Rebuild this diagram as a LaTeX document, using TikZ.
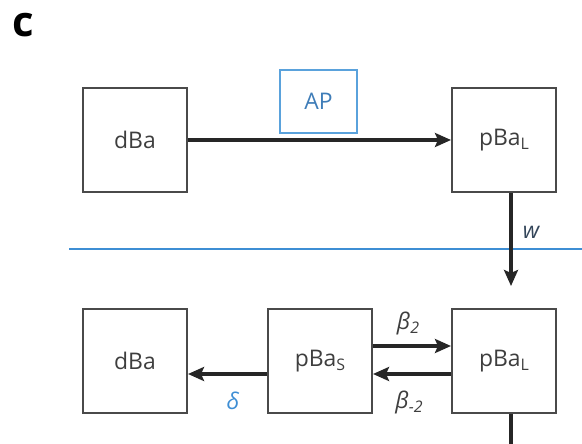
\documentclass[tikz,border=0pt]{standalone}
\usepackage{fontspec}
\setmainfont{Open Sans}
\usetikzlibrary{arrows.meta}
\definecolor{boxline}{HTML}{4A4A4A}
\definecolor{txt}{HTML}{3E3E3E}
\definecolor{arr}{HTML}{262626}
\definecolor{apblue}{HTML}{5AA2DC}
\definecolor{aptext}{HTML}{3F7DB8}
\definecolor{sep}{HTML}{3E8ED4}
\definecolor{wtxt}{HTML}{34465A}
\newcommand{\sub}[1]{\raisebox{-4bp}{\fontsize{16}{16}\selectfont #1}}
\tikzset{
  state/.style={draw=boxline, line width=2bp, minimum width=104bp, minimum height=104bp,
    inner sep=0pt, text=txt, font=\fontsize{23}{27}\selectfont},
  apbox/.style={draw=apblue, line width=1.8bp, minimum width=77bp, minimum height=63bp,
    inner sep=0pt, text=aptext, font=\fontsize{23}{27}\selectfont},
  flow/.style={draw=arr, line width=3.2bp, -{Stealth[length=16bp,width=14bp,inset=3bp]}},
  rate/.style={font=\fontsize{23}{26}\selectfont\itshape, inner sep=0pt},
}
\begin{document}
\begin{tikzpicture}[x=1bp, y=-1bp]
  \useasboundingbox (0,0) rectangle (582,444);

  % panel letter
  \node[font=\fontsize{42}{42}\selectfont\bfseries, text=black, inner sep=0pt] (panel) at (23,25) {c};

  % upper compartment
  \node[state] (dba1) at (135,140) {dBa};
  \node[state] (pbal1) at (504,140) {pBa\sub{L}};
  \node[apbox] (ap) at (318.5,101.5) {AP};
  \draw[flow] (dba1) -- (pbal1);

  % separating membrane
  \coordinate (sepL) at (69,249);
  \coordinate (sepR) at (582,249);
  \draw[sep, line width=2.8bp] (sepL) -- (sepR);

  % transfer across the membrane
  \coordinate (wtip) at (511,286);
  \draw[flow] (pbal1.south -| wtip) -- (wtip);
  \node[rate, text=wtxt] (w) at (531,232) {w};

  % lower compartment
  \node[state] (dba2) at (135,361) {dBa};
  \node[state] (pbas) at (320,361) {pBa\sub{S}};
  \node[state] (pbal2) at (504,361) {pBa\sub{L}};

  \draw[flow] ([yshift=15bp]pbas.east) -- ([yshift=15bp]pbal2.west);
  \draw[flow] ([yshift=-13bp]pbal2.west) -- ([yshift=-13bp]pbas.east);
  \draw[flow] ([yshift=-13bp]pbas.west) -- ([yshift=-13bp]dba2.east);

  \node[rate, text=txt] (b2) at (408,323) {β\sub{2}};
  \node[rate, text=txt] (bm2) at (409,402) {β\sub{-2}};
  \node[rate, text=sep] (delta) at (233,401) {δ};

  % outflow below
  \coordinate (out) at (511,444);
  \draw[draw=arr, line width=3.2bp] (pbal2.south -| out) -- (out);
\end{tikzpicture}
\end{document}
